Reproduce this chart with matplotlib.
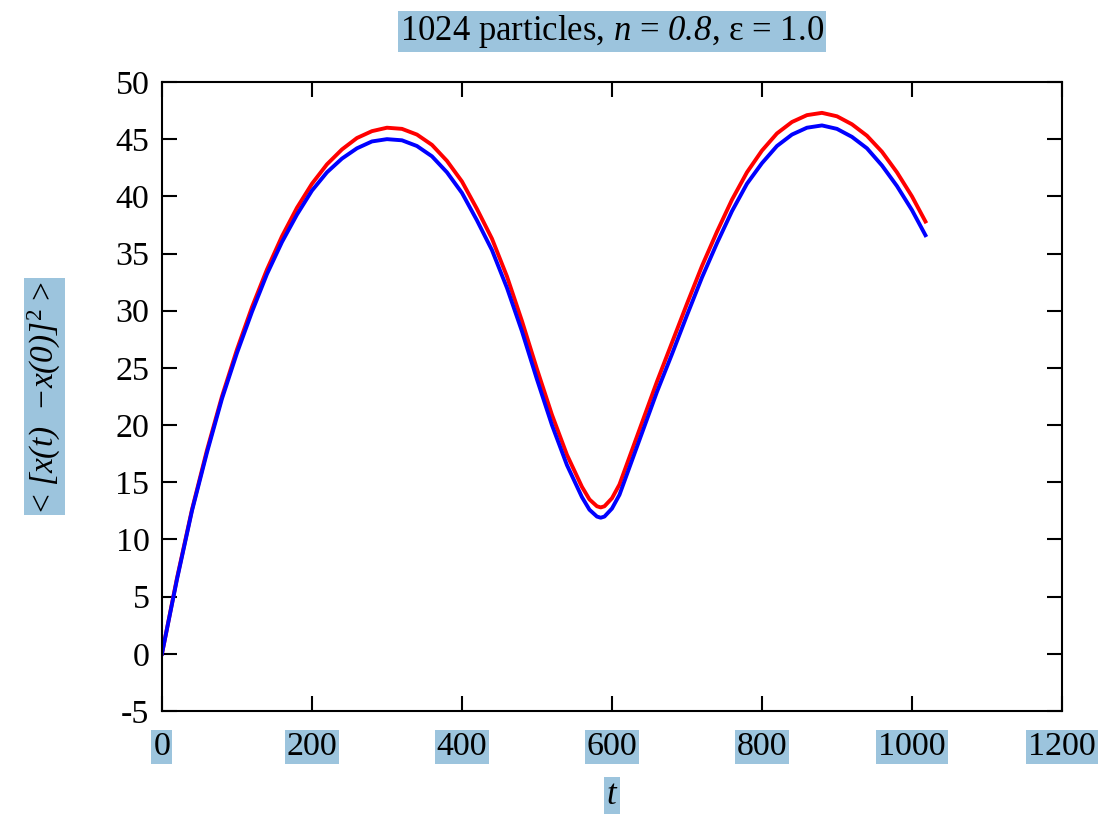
import matplotlib
matplotlib.use('Agg')
import matplotlib.pyplot as plt

plt.rcParams['font.family'] = ['Liberation Serif', 'DejaVu Serif']
plt.rcParams['mathtext.fontset'] = 'custom'
plt.rcParams['mathtext.rm'] = 'Liberation Serif'
plt.rcParams['mathtext.it'] = 'Liberation Serif:italic'
plt.rcParams['mathtext.sf'] = 'Liberation Serif:italic'
plt.rcParams['axes.unicode_minus'] = False

# data
t = [0, 20, 40, 60, 80, 100, 120, 140, 160, 180, 200, 220, 240, 260, 280, 300,
     320, 340, 360, 380, 400, 420, 440, 460, 480, 500, 520, 540, 560, 570, 580,
     585, 590, 600, 610, 620, 640, 660, 680, 700, 720, 740, 760, 780, 800, 820,
     840, 860, 880, 900, 920, 940, 960, 980, 1000, 1018]
red = [0, 6.6, 12.6, 17.8, 22.5, 26.6, 30.3, 33.6, 36.5, 39.0, 41.1, 42.8, 44.1,
       45.1, 45.7, 46.0, 45.9, 45.4, 44.5, 43.1, 41.3, 38.9, 36.3, 33.0, 29.1,
       24.9, 20.9, 17.4, 14.6, 13.5, 12.9, 12.8, 12.9, 13.6, 14.8, 16.6, 20.2,
       23.8, 27.2, 30.6, 33.9, 36.9, 39.7, 42.1, 44.0, 45.5, 46.5, 47.1, 47.3,
       47.0, 46.3, 45.3, 43.9, 42.1, 40.0, 37.8]
blue = [0, 6.5, 12.5, 17.6, 22.3, 26.3, 29.9, 33.2, 36.0, 38.4, 40.5, 42.1, 43.3,
        44.2, 44.8, 45.0, 44.9, 44.4, 43.5, 42.1, 40.3, 37.9, 35.3, 32.0, 28.2,
        24.0, 20.0, 16.5, 13.7, 12.6, 12.0, 11.9, 12.0, 12.7, 13.9, 15.7, 19.3,
        22.9, 26.2, 29.6, 32.9, 35.9, 38.7, 41.1, 42.9, 44.4, 45.4, 46.0, 46.2,
        45.9, 45.2, 44.2, 42.7, 40.9, 38.8, 36.6]

box = dict(facecolor='#9cc4dd', edgecolor='none', pad=1.5)

fig = plt.figure(figsize=(11.07, 8.23), dpi=100)
ax = fig.add_axes([0.1463, 0.1361, 0.8130, 0.7643])

ax.plot(t, red, color='red', lw=2.8)
ax.plot(t, blue, color='blue', lw=2.8)

ax.set_xlim(0, 1200)
ax.set_ylim(-5, 50)
ax.set_xticks(range(0, 1201, 200))
ax.set_yticks(range(-5, 51, 5))
ax.tick_params(direction='in', length=11, width=1.5, labelsize=24.5,
               top=True, right=True)
ax.tick_params(axis='x', pad=15)
ax.tick_params(axis='y', pad=9)
for s in ax.spines.values():
    s.set_linewidth(1.5)
for lbl in ax.get_xticklabels():
    lbl.set_bbox(box)

ax.set_title(r'1024 particles, $n$ = $\mathsf{0.8}$, ε = 1.0', fontsize=25,
             pad=30, bbox=box)
ax.set_xlabel(r'$t$', fontsize=25, labelpad=12, bbox=box)
ax.set_ylabel(r'< $\mathsf{[x(t)\ \ {-}x(0)]}^2$ >', fontsize=24, labelpad=38,
              bbox=box)

fig.savefig('out.png', dpi=100)
